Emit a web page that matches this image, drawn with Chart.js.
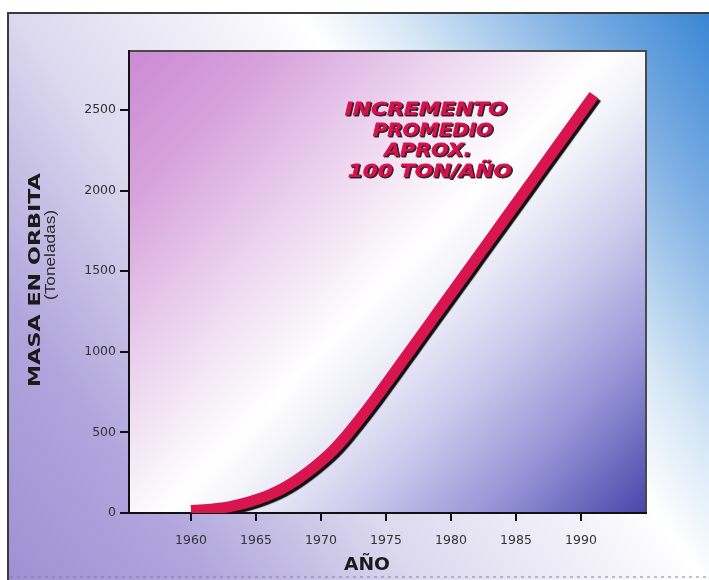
<!DOCTYPE html>
<html>
<head>
<meta charset="utf-8">
<script src="https://cdn.jsdelivr.net/npm/chart.js@4"></script>
<style>
  html, body { margin: 0; padding: 0; background: #ffffff; }
  #wrap { width: 709px; height: 580px; }
</style>
</head>
<body>
<div id="wrap"><canvas id="c" width="709" height="580"></canvas></div>
<script>
// Accumulated mass in orbit (tonnes) by year
const years = [1960, 1961, 1962, 1963, 1964, 1965, 1966, 1967, 1968, 1969,
               1970, 1971, 1972, 1973, 1974, 1975, 1976, 1977, 1978, 1979,
               1980, 1981, 1982, 1983, 1984, 1985, 1986, 1987, 1988, 1989,
               1990, 1991];
const masa = [15, 20, 28, 40, 58, 82, 112, 150, 198, 255,
              320, 395, 485, 585, 690, 800, 912, 1024, 1136, 1248,
              1360, 1472, 1584, 1696, 1808, 1920, 2032, 2144, 2256, 2368,
              2480, 2592];
const xTicks = [1960, 1965, 1970, 1975, 1980, 1985, 1990];
const yTicks = [0, 500, 1000, 1500, 2000, 2500];
const annotationLines = ['INCREMENTO', 'PROMEDIO', 'APROX.', '100 TON/AÑO'];

// Draw text squeezed or stretched horizontally to a given width
function fitText(ctx, text, x, y, width, stroke) {
  const m = ctx.measureText(text).width;
  ctx.save();
  ctx.translate(x, y);
  ctx.scale(width / m, 1);
  if (stroke) ctx.strokeText(text, 0, 0);
  ctx.fillText(text, 0, 0);
  ctx.restore();
}

const backdrop = {
  id: 'backdrop',
  beforeDraw(chart) {
    const ctx = chart.ctx;
    const a = chart.chartArea;
    ctx.save();
    ctx.fillStyle = '#ffffff';
    ctx.fillRect(0, 0, chart.width, chart.height);

    // outer panel
    const g = ctx.createLinearGradient(8, 580, 739, 57);
    g.addColorStop(0.00, '#9f90d4');
    g.addColorStop(0.18, '#b0a6dd');
    g.addColorStop(0.37, '#dcd8ee');
    g.addColorStop(0.55, '#f3f2fa');
    g.addColorStop(0.63, '#ffffff');
    g.addColorStop(0.72, '#d6e7f6');
    g.addColorStop(0.86, '#84b3e5');
    g.addColorStop(1.00, '#3a86d4');
    ctx.fillStyle = g;
    ctx.fillRect(8, 13, 709 - 8, 580 - 13);
    ctx.strokeStyle = '#3a3a3a';
    ctx.lineWidth = 2;
    ctx.beginPath();
    ctx.moveTo(8, 580);
    ctx.lineTo(8, 13);
    ctx.lineTo(709, 13);
    ctx.stroke();
    ctx.strokeStyle = 'rgba(120,120,140,0.6)';
    ctx.lineWidth = 1.5;
    ctx.setLineDash([3, 4]);
    ctx.beginPath();
    ctx.moveTo(10, 577);
    ctx.lineTo(709, 577);
    ctx.stroke();
    ctx.setLineDash([]);

    // plot area
    const p = ctx.createLinearGradient(a.left, a.top, 629, 531);
    p.addColorStop(0.00, '#cc8ad3');
    p.addColorStop(0.15, '#d7a2dc');
    p.addColorStop(0.32, '#ebd2ee');
    p.addColorStop(0.45, '#f9f3fa');
    p.addColorStop(0.50, '#ffffff');
    p.addColorStop(0.57, '#f0f0f9');
    p.addColorStop(0.69, '#cccbed');
    p.addColorStop(0.83, '#9896d7');
    p.addColorStop(1.00, '#4646aa');
    ctx.fillStyle = p;
    ctx.fillRect(a.left, a.top, a.right - a.left, a.bottom - a.top);
    ctx.strokeStyle = '#4a4a4a';
    ctx.lineWidth = 2;
    ctx.beginPath();
    ctx.moveTo(a.left, a.top);
    ctx.lineTo(a.right, a.top);
    ctx.lineTo(a.right, a.bottom);
    ctx.stroke();
    ctx.restore();
  },
  beforeDatasetDraw(chart) {
    const ctx = chart.ctx;
    ctx.save();
    ctx.shadowColor = '#111111';
    ctx.shadowOffsetX = 2.5;
    ctx.shadowOffsetY = 2.5;
    ctx.shadowBlur = 1;
  },
  afterDatasetDraw(chart) {
    chart.ctx.restore();
  },
  afterDraw(chart) {
    const ctx = chart.ctx;
    ctx.save();
    ctx.textAlign = 'center';
    ctx.textBaseline = 'middle';

    // y-axis titles
    ctx.fillStyle = '#1a1a1a';
    ctx.save();
    ctx.translate(36, 280);
    ctx.rotate(-Math.PI / 2);
    ctx.font = "bold 15px 'DejaVu Sans', sans-serif";
    fitText(ctx, 'MASA EN ORBITA', 0, 0, 214);
    ctx.restore();
    ctx.save();
    ctx.translate(51, 255);
    ctx.rotate(-Math.PI / 2);
    ctx.fillStyle = '#2a2a2a';
    ctx.font = "14px 'Liberation Sans', Arial, sans-serif";
    fitText(ctx, '(Toneladas)', 0, 0, 90);
    ctx.restore();

    // x-axis title
    ctx.font = "bold 17px 'DejaVu Sans', sans-serif";
    fitText(ctx, 'AÑO', 367, 566, 46);

    // annotation
    ctx.font = "oblique bold 18px 'DejaVu Sans', sans-serif";
    ctx.fillStyle = '#d4124e';
    ctx.strokeStyle = '#d4124e';
    ctx.lineWidth = 0.8;
    ctx.lineJoin = 'round';
    ctx.shadowColor = 'rgba(30,15,20,0.85)';
    ctx.shadowOffsetX = 1.2;
    ctx.shadowOffsetY = 1.2;
    ctx.shadowBlur = 0.5;
    const ax = [426, 433, 428, 430];
    const ay = [110, 131, 151, 172];
    const aw = [162, 120, 87, 164];
    annotationLines.forEach((t, i) => fitText(ctx, t, ax[i], ay[i], aw[i], true));
    ctx.restore();
  }
};

new Chart(document.getElementById('c'), {
  type: 'line',
  data: {
    datasets: [{
      data: years.map((y, i) => ({ x: y, y: masa[i] })),
      borderColor: '#d8154f',
      borderWidth: 11,
      borderCapStyle: 'butt',
      borderJoinStyle: 'round',
      pointRadius: 0,
      cubicInterpolationMode: 'monotone',
      fill: false
    }]
  },
  options: {
    responsive: false,
    devicePixelRatio: 1,
    animation: false,
    events: [],
    layout: { padding: { top: 51, right: 63, left: 0, bottom: 0 } },
    plugins: { legend: { display: false }, tooltip: { enabled: false }, title: { display: false } },
    scales: {
      x: {
        type: 'linear',
        min: 1955.23,
        max: 1995,
        afterBuildTicks: s => { s.ticks = xTicks.map(v => ({ value: v })); },
        afterFit: s => { s.height = 67; },
        ticks: {
          callback: v => String(v),
          color: '#333333',
          font: { family: "'DejaVu Sans', sans-serif", size: 12.5 },
          padding: 12,
          maxRotation: 0,
          autoSkip: false
        },
        grid: { drawOnChartArea: false, tickLength: 8, color: '#111111', lineWidth: 2 },
        border: { display: true, color: '#111111', width: 2 }
      },
      y: {
        type: 'linear',
        min: 0,
        max: 2866,
        afterBuildTicks: s => { s.ticks = yTicks.map(v => ({ value: v })); },
        afterFit: s => { s.width = 129; },
        ticks: {
          callback: v => String(v),
          color: '#333333',
          font: { family: "'DejaVu Sans', sans-serif", size: 12.5 },
          padding: 4,
          autoSkip: false
        },
        grid: { drawOnChartArea: false, tickLength: 9, color: '#111111', lineWidth: 2 },
        border: { display: true, color: '#111111', width: 2 }
      }
    }
  },
  plugins: [backdrop]
});
</script>
</body>
</html>
